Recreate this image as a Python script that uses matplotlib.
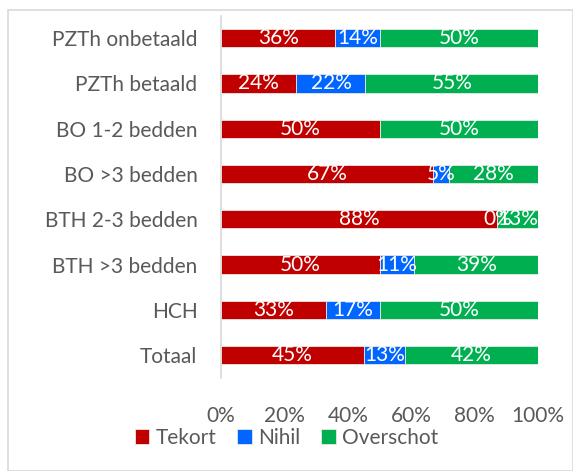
import matplotlib.pyplot as plt
import numpy as np

plt.rcParams['font.family'] = ['Lato', 'DejaVu Sans']

categories = ["PZTh onbetaald", "PZTh betaald", "BO 1-2 bedden", "BO >3 bedden",
              "BTH 2-3 bedden", "BTH >3 bedden", "HCH", "Totaal"]
tekort = [36, 24, 50, 67, 88, 50, 33, 45]
nihil = [14, 22, np.nan, 5, 0, 11, 17, 13]
overschot = [50, 55, 50, 28, 13, 39, 50, 42]

series = [("Tekort", tekort, "#C00000"),
          ("Nihil", nihil, "#0066FF"),
          ("Overschot", overschot, "#00B050")]

fig = plt.figure(figsize=(5.73, 4.71), dpi=100)
ax = fig.add_axes([0.386, 0.198, 0.553, 0.769])

# normalise to 100%
tot = np.nansum(np.array([tekort, nihil, overschot], dtype=float), axis=0)
y = np.arange(len(categories))
left = np.zeros(len(categories))
for name, vals, col in series:
    v = np.array(vals, dtype=float)
    w = np.nan_to_num(v) / tot * 100
    ax.barh(y, w, left=left, height=0.4, color=col, edgecolor="#e8e8e8",
            linewidth=0.6, label=name)
    for i in range(len(categories)):
        if not np.isnan(v[i]):
            ax.text(left[i] + w[i] / 2, y[i], f"{int(v[i])}%", ha="center",
                    va="center", color="white", fontsize=15)
    left += w

ax.set_xlim(0, 100)
ax.set_ylim(len(categories) - 0.5, -0.5)
ax.set_yticks(y)
ax.set_yticklabels(categories, fontsize=15, color="#595959")
ax.set_xticks([0, 20, 40, 60, 80, 100])
ax.set_xticklabels(["0%", "20%", "40%", "60%", "80%", "100%"], fontsize=15, color="#595959")
ax.tick_params(axis="y", length=0, pad=17)
ax.tick_params(axis="x", length=0, pad=20)
for s in ["top", "right", "bottom"]:
    ax.spines[s].set_visible(False)
ax.spines["left"].set_color("#d9d9d9")
ax.spines["left"].set_linewidth(1.2)

fig.legend(loc="center", bbox_to_anchor=(0.5, 0.07), ncol=3, frameon=False,
           fontsize=15, handlelength=0.7, handleheight=0.7, handletextpad=0.3,
           columnspacing=1.0, labelcolor="#595959")

# outer frame
fig.patches.append(plt.Rectangle((8 / 573, 0.0), 1 - 8 / 573, 1 - 10 / 471,
                                 transform=fig.transFigure, fill=False,
                                 edgecolor="#d9d9d9", linewidth=1.2))

fig.savefig("out.png", dpi=100)
